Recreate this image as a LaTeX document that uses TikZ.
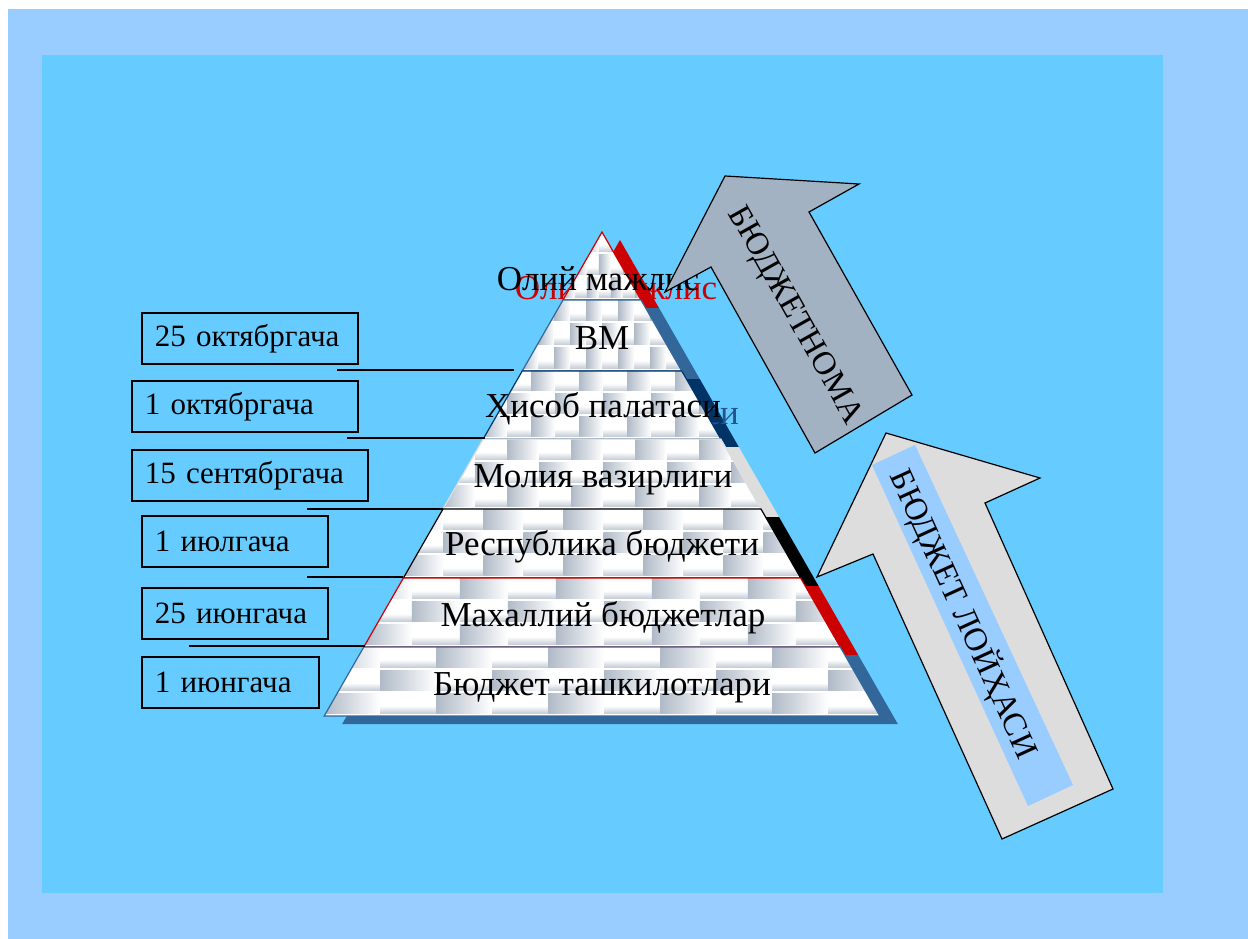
\documentclass[tikz,border=0pt]{standalone}
\usepackage{fontspec}
\setmainfont{Liberation Serif}
\definecolor{outerbg}{HTML}{99CCFF}
\definecolor{innerbg}{HTML}{66CCFF}
\definecolor{sred}{HTML}{CC0000}
\definecolor{sblue}{HTML}{336699}
\definecolor{snavy}{HTML}{003366}
\definecolor{sgray}{HTML}{DDDDDD}
\definecolor{brk}{HTML}{B0BAC7}
\definecolor{arrowA}{HTML}{A3B2C2}
\definecolor{arrowB}{HTML}{DDDDDD}
\definecolor{txtnavy}{HTML}{24548C}
\newcommand{\pyrpts}[2]{%
  \pgfmathsetmacro{\pLT}{602-0.574*(#1-232)}%
  \pgfmathsetmacro{\pRT}{602+0.574*(#1-232)}%
  \pgfmathsetmacro{\pLB}{602-0.574*(#2-232)}%
  \pgfmathsetmacro{\pRB}{602+0.574*(#2-232)}%
}
\newcommand{\pyrshadow}[3]{%
  \pyrpts{#1}{#2}%
  \fill[#3] (\pLT+18,#1+8) -- (\pRT+18,#1+8) -- (\pRB+18,#2+8) -- (\pLB+18,#2+8) -- cycle;%
}
\newcommand{\pyrlayer}[4]{%
  \pyrpts{#1}{#2}%
  \begin{scope}
    \clip (\pLT,#1) -- (\pRT,#1) -- (\pRB,#2) -- (\pLB,#2) -- cycle;
    \fill[white] (\pLB,#1) rectangle (\pRB,#2);
    \pgfmathsetmacro{\rowh}{(#2-#1)/3}
    \foreach \r in {0,1,2}{
      \foreach \c in {0,...,7}{
        \pgfmathsetmacro{\bx}{\pLB+(\c-0.5*mod(\r,2))*#4}
        \pgfmathsetmacro{\by}{#1+\r*\rowh}
        \shade[left color=brk,right color=white] (\bx,\by) rectangle ++(0.5*#4,\rowh-3);
        \shade[top color=white,bottom color=brk!70] (\bx+0.5*#4,\by+0.55*\rowh) rectangle ++(0.5*#4,0.45*\rowh-3);
      }
    }
  \end{scope}
  \draw[#3, line width=1.2] (\pLT,#1) -- (\pRT,#1) -- (\pRB,#2) -- (\pLB,#2) -- cycle;%
}
\tikzset{
  lbl/.style={draw=black, line width=1.5, anchor=north west, align=left,
    inner xsep=13, inner ysep=0, minimum height=51,
    font=\fontsize{31}{35}\selectfont},
  ptxt/.style={anchor=base, font=\fontsize{35}{40}\selectfont},
  atxt/.style={font=\fontsize{33}{38}\selectfont},
  conn/.style={draw=black, line width=1.3}
}
\begin{document}
\begin{tikzpicture}[x=1pt,y=-1pt]
\useasboundingbox (0,0) rectangle (1248,939);
\fill[white] (0,0) rectangle (1248,939);
\fill[outerbg] (8,9) rectangle (1248,939);
\fill[innerbg] (42,55) rectangle (1163,893);
% shadows
\pyrshadow{232}{300}{sred}
\pyrshadow{300}{371}{sblue}
\pyrshadow{371}{439}{snavy}
\pyrshadow{439}{509}{sgray}
\pyrshadow{509}{578}{black}
\pyrshadow{578}{647}{sred}
\pyrshadow{647}{716}{sblue}
% shadow texts
\node[ptxt, text=sred] (t1s) at (616,299) {Олий мажлис};
\node[ptxt, text=txtnavy] (t3s) at (621,424) {Ҳисоб палатаси};
% layers
\pyrlayer{232}{300}{sred}{24}
\pyrlayer{300}{371}{sblue}{32}
\pyrlayer{371}{439}{snavy}{48}
\pyrlayer{439}{509}{sgray}{64}
\pyrlayer{509}{578}{black}{80}
\pyrlayer{578}{647}{sred}{96}
\pyrlayer{647}{716}{sblue}{112}
% layer texts
\node[ptxt] (t1) at (598,290) {Олий мажлис};
\node[ptxt] (t2) at (602,349) {ВМ};
\node[ptxt] (t3) at (603,417) {Ҳисоб палатаси};
\node[ptxt] (t4) at (603,487) {Молия вазирлиги};
\node[ptxt] (t5) at (602,555) {Республика бюджети};
\node[ptxt] (t6) at (603,626) {Махаллий бюджетлар};
\node[ptxt] (t7) at (602,695) {Бюджет ташкилотлари};
% connectors
\coordinate (c1a) at (337,370); \coordinate (c1b) at (514,370);
\coordinate (c2a) at (347,438); \coordinate (c2b) at (485,438);
\coordinate (c3a) at (307,509); \coordinate (c3b) at (443,509);
\coordinate (c4a) at (307,577); \coordinate (c4b) at (403,577);
\coordinate (c5a) at (189,646); \coordinate (c5b) at (365,646);
\draw[conn] (c1a) -- (c1b);
\draw[conn] (c2a) -- (c2b);
\draw[conn] (c3a) -- (c3b);
\draw[conn] (c4a) -- (c4b);
\draw[conn] (c5a) -- (c5b);
% labels
\node[lbl, text width=190] (l1) at (141,312) {25 октябргача};
\node[lbl, text width=200] (l2) at (131,380) {1 октябргача};
\node[lbl, text width=210] (l3) at (131,449) {15 сентябргача};
\node[lbl, text width=160] (l4) at (141,515) {1 июлгача};
\node[lbl, text width=160] (l5) at (141,587) {25 июнгача};
\node[lbl, text width=151] (l6) at (141,656) {1 июнгача};
% arrow 1
\draw[fill=arrowA, line width=1.2, line join=miter] (725,176) -- (859,184) -- (809,212) -- (912,395) -- (815,453) -- (711,267) -- (665,292) -- cycle;
\node[atxt, rotate=-60.7] (a1) at (794,316) {БЮДЖЕТНОМА};
% arrow 2
\draw[fill=arrowB, line width=1.2, line join=miter] (886,433) -- (1040,478) -- (985,503) -- (1113,789) -- (1002,839) -- (873,554) -- (817,577) -- cycle;
\fill[outerbg] (872,465) -- (915,445) -- (1073,785) -- (1028,806) -- cycle;
\node[atxt, rotate=-65.5] (a2) at (964,614) {БЮДЖЕТ ЛОЙҲАСИ};
\end{tikzpicture}
\end{document}
